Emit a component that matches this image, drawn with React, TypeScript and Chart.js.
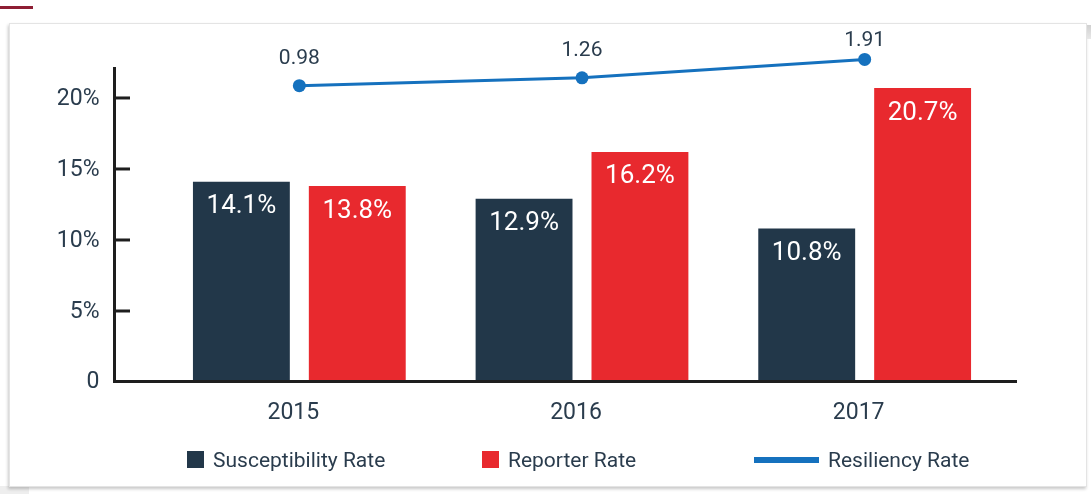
import React, { useEffect, useRef } from "react";
import { Chart, registerables } from "chart.js";

Chart.register(...registerables);

const categories = ["2015", "2016", "2017"];
const susceptibilityRate = [14.1, 12.9, 10.8];
const reporterRate = [13.8, 16.2, 20.7];
const resiliencyRate = [0.98, 1.26, 1.91];
const yTickValues = [0, 5, 10, 15, 20];
const yTickLabels = ["0", "5%", "10%", "15%", "20%"];
const legendLabels = ["Susceptibility Rate", "Reporter Rate", "Resiliency Rate"];

const DARK = "#223749";
const RED = "#E8292E";
const BLUE = "#1571BE";
const TEXT = "#2A3C4D";
const AXIS = "#1E1E1E";
const FONT = "Roboto, 'Noto Sans', sans-serif";

const W = 1091;
const H = 494;

const decorPlugin = {
  id: "decor",
  afterDatasetsDraw(chart: any) {
    const ctx = chart.ctx as CanvasRenderingContext2D;
    const area = chart.chartArea;
    const ys = chart.scales.y;
    const xs = chart.scales.x;
    ctx.save();

    // bar value labels
    ctx.textAlign = "center";
    ctx.textBaseline = "middle";
    ctx.font = `26px ${FONT}`;
    ctx.fillStyle = "#ffffff";
    [1, 2].forEach((di) => {
      const meta = chart.getDatasetMeta(di);
      meta.data.forEach((el: any, i: number) => {
        const v = chart.data.datasets[di].data[i] as number;
        ctx.fillText(v.toFixed(1) + "%", el.x, el.y + 25);
      });
    });

    // line value labels
    ctx.font = `21px ${FONT}`;
    ctx.fillStyle = TEXT;
    const lineMeta = chart.getDatasetMeta(0);
    lineMeta.data.forEach((el: any, i: number) => {
      const v = chart.data.datasets[0].data[i] as number;
      ctx.fillText(v.toFixed(2), el.x, Math.max(el.y - 27, area.top - 4));
    });

    // axes
    const axisX = area.left - 43.5;
    const axisY = area.bottom - 0.5;
    const axisTop = area.top + 22;
    ctx.strokeStyle = AXIS;
    ctx.lineWidth = 3;
    ctx.beginPath();
    ctx.moveTo(axisX, axisTop);
    ctx.lineTo(axisX, axisY + 1.5);
    ctx.moveTo(axisX - 1.5, axisY);
    ctx.lineTo(area.right + 11, axisY);
    ctx.stroke();

    // y ticks (inward) and labels
    ctx.font = `23px ${FONT}`;
    ctx.fillStyle = TEXT;
    ctx.textAlign = "right";
    yTickValues.forEach((v, i) => {
      const py = ys.getPixelForValue(v);
      if (v !== 0) {
        ctx.beginPath();
        ctx.moveTo(axisX + 1.5, py);
        ctx.lineTo(axisX + 15.5, py);
        ctx.stroke();
      }
      ctx.fillText(yTickLabels[i], axisX - 15, v === 0 ? py : py + 1);
    });

    // x labels
    ctx.textAlign = "center";
    categories.forEach((c, i) => {
      const px = xs.getPixelForValue(i);
      ctx.fillText(c, px - 6, area.bottom + 31);
    });

    // legend
    const ly = area.bottom + 78;
    ctx.font = `21px ${FONT}`;
    ctx.textAlign = "left";
    ctx.fillStyle = DARK;
    ctx.fillRect(187, ly - 9, 17, 17);
    ctx.fillStyle = TEXT;
    ctx.fillText(legendLabels[0], 213, ly + 2);
    ctx.fillStyle = RED;
    ctx.fillRect(482, ly - 9, 17, 17);
    ctx.fillStyle = TEXT;
    ctx.fillText(legendLabels[1], 508, ly + 2);
    ctx.strokeStyle = BLUE;
    ctx.lineWidth = 6;
    ctx.beginPath();
    ctx.moveTo(754, ly);
    ctx.lineTo(819, ly);
    ctx.stroke();
    ctx.fillText(legendLabels[2], 828, ly + 2);

    ctx.restore();
  },
};

export default function App() {
  const ref = useRef<HTMLCanvasElement | null>(null);

  useEffect(() => {
    document.body.style.margin = "0";
    const canvas = ref.current;
    if (!canvas) return;
    const chart = new Chart(canvas, {
      type: "bar",
      data: {
        labels: categories,
        datasets: [
          {
            type: "line",
            label: legendLabels[2],
            data: resiliencyRate,
            yAxisID: "y2",
            borderColor: BLUE,
            backgroundColor: BLUE,
            borderWidth: 3,
            pointRadius: 6.5,
            pointBackgroundColor: BLUE,
            pointBorderWidth: 0,
            tension: 0,
            clip: false,
            order: 0,
          } as any,
          {
            type: "bar",
            label: legendLabels[0],
            data: susceptibilityRate,
            yAxisID: "y",
            backgroundColor: DARK,
            categoryPercentage: 0.82,
            barPercentage: 0.836,
            order: 1,
          },
          {
            type: "bar",
            label: legendLabels[1],
            data: reporterRate,
            yAxisID: "y",
            backgroundColor: RED,
            categoryPercentage: 0.82,
            barPercentage: 0.836,
            order: 1,
          },
        ],
      },
      options: {
        responsive: false,
        animation: false,
        devicePixelRatio: 1,
        layout: { padding: { left: 158, right: W - 1006, top: 45, bottom: H - 382 } },
        plugins: {
          legend: { display: false },
          tooltip: { enabled: false },
        },
        scales: {
          x: { type: "category", display: false, offset: true },
          y: { type: "linear", display: false, min: 0, max: 23.73 },
          y2: { type: "linear", display: false, min: -9.505, max: 2.42 },
        },
      },
      plugins: [decorPlugin],
    });
    return () => chart.destroy();
  }, []);

  return (
    <div style={{ position: "relative", width: W, height: H, overflow: "hidden", background: "#fff" }}>
      <div style={{ position: "absolute", left: 0, top: 6, width: 33, height: 3, background: "#8E1E34" }} />
      <div style={{ position: "absolute", left: 0, top: 486, width: 29, height: 8, background: "#eeeeee" }} />
      <div
        style={{
          position: "absolute",
          left: 9,
          top: 23,
          width: 1076,
          height: 462,
          background: "#fff",
          border: "1px solid #e4e4e4",
          boxShadow: "-1px 2px 3px rgba(0,0,0,0.22)",
        }}
      />
      <div style={{ position: "absolute", left: 1087, top: 25, width: 4, height: 14, background: "linear-gradient(#d0d0d0,#e8e8e8)" }} />
      <canvas ref={ref} width={W} height={H} style={{ position: "absolute", left: 0, top: 0, width: W, height: H }} />
    </div>
  );
}
